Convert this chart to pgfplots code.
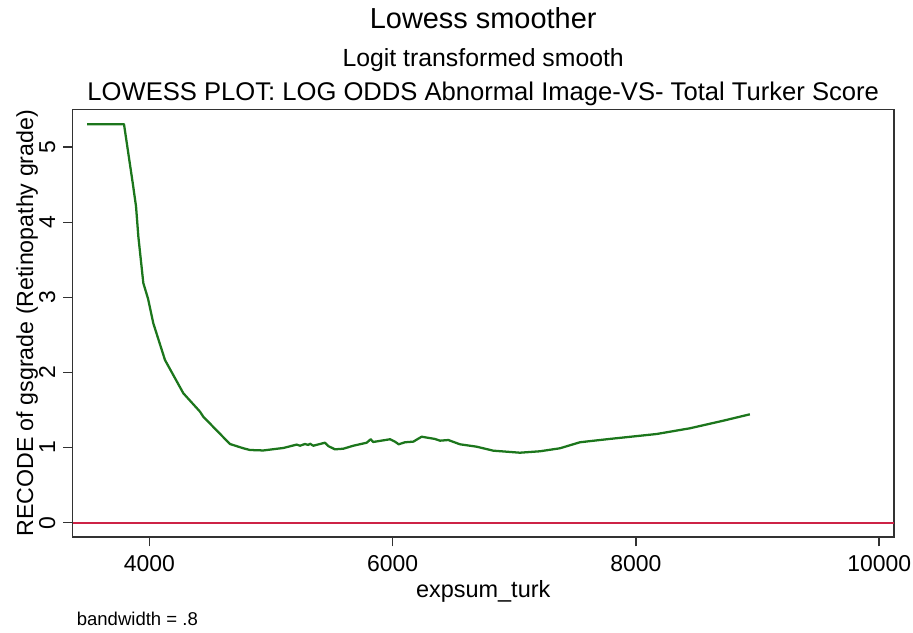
\documentclass[border=0pt]{standalone}
\usepackage{pgfplots}
\pgfplotsset{compat=1.18}
\usepackage{fontspec}
\setmainfont{Liberation Sans}
\definecolor{lgreen}{RGB}{28,118,28}
\definecolor{lred}{RGB}{205,35,70}
\definecolor{axgray}{RGB}{50,50,50}
\begin{document}
\begin{tikzpicture}
\useasboundingbox (0,0) rectangle (684.75pt,474pt);
\begin{axis}[
  at={(54.4pt,71.25pt)}, anchor=south west,
  scale only axis, width=616pt, height=320.6pt,
  xmin=3369, xmax=10121, ymin=-0.19, ymax=5.5,
  xtick={4000,6000,8000,10000}, ytick={0,1,2,3,4,5},
  scaled x ticks=false, scaled y ticks=false,
  tick align=outside, major tick length=7pt,
  axis line style={axgray, line width=1pt},
  every tick/.style={axgray, line width=1pt},
  xtick pos=bottom, ytick pos=left,
  font=\fontsize{17.2}{20}\selectfont,
  /pgf/number format/assume math mode=true,
  /pgf/number format/1000 sep={},
  yticklabel style={rotate=90, anchor=base, inner sep=0pt},
  yticklabel shift=6pt,
  xticklabel style={anchor=north, inner sep=0pt},
  xticklabel shift=7pt,
  clip=false,
]
\addplot[lred, line width=1.8pt] coordinates {(3369,0) (10121,0)};
\addplot[lgreen, line width=1.7pt, line join=round] coordinates {
(3488,5.305) (3792,5.305) (3864,4.52) (3891,4.21) (3910,3.81) (3951,3.19)
(3990,2.98) (4033,2.655) (4129,2.166) (4280,1.723) (4417,1.478) (4444,1.411)
(4663,1.048) (4773,0.991) (4828,0.968) (4937,0.962) (5102,0.995) (5212,1.04)
(5239,1.025) (5280,1.048) (5307,1.035) (5321,1.052) (5348,1.025) (5444,1.065)
(5471,1.021) (5526,0.977) (5595,0.985) (5677,1.025) (5787,1.065) (5820,1.111)
(5841,1.075) (5979,1.111) (6020,1.079) (6050,1.044) (6102,1.071) (6170,1.079)
(6239,1.145) (6348,1.115) (6390,1.092) (6458,1.101) (6554,1.044) (6691,1.012)
(6828,0.959) (7047,0.932) (7211,0.951) (7376,0.991) (7540,1.071) (7760,1.111)
(8171,1.181) (8444,1.257) (8718,1.358) (8937,1.443)};
\node[anchor=base, font=\fontsize{21.7}{26}\selectfont] at ([yshift=60.4pt]rel axis cs:0.5,1) {Lowess smoother};
\node[anchor=base, font=\fontsize{18.6}{22}\selectfont] at ([yshift=32.6pt]rel axis cs:0.5,1) {Logit transformed smooth};
\node[anchor=base, font=\fontsize{19.2}{23}\selectfont] at ([yshift=7.1pt]rel axis cs:0.5,1) {LOWESS PLOT: LOG ODDS Abnormal Image-VS- Total Turker Score};
\node[anchor=base, font=\fontsize{17.6}{21}\selectfont] at ([yshift=-45pt]rel axis cs:0.5,0) {expsum\_turk};
\node[anchor=base, rotate=90, font=\fontsize{17.4}{21}\selectfont] at ([xshift=-29.6pt]rel axis cs:0,0.5) {RECODE of gsgrade (Retinopathy grade)};
\node[anchor=base west, inner sep=0pt, font=\fontsize{13.9}{17}\selectfont] at ([xshift=3pt,yshift=-66.5pt]rel axis cs:0,0) {bandwidth = .8};
\end{axis}
\end{tikzpicture}
\end{document}
